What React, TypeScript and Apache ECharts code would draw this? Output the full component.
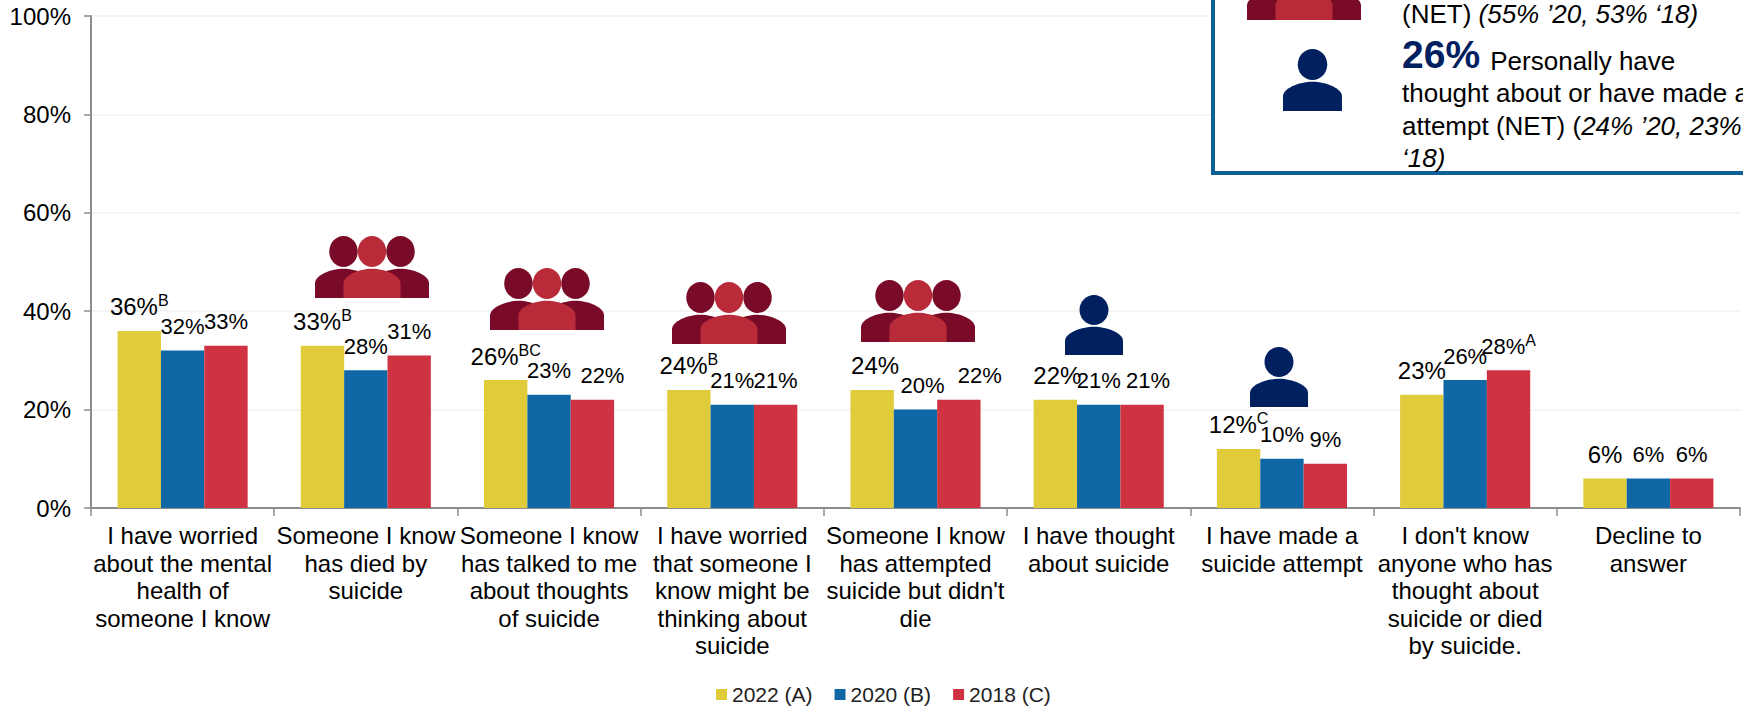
import React, { useEffect, useRef } from "react";
import * as echarts from "echarts";

const categories = [
  "I have worried\nabout the mental\nhealth of\nsomeone I know",
  "Someone I know\nhas died by\nsuicide",
  "Someone I know\nhas talked to me\nabout thoughts\nof suicide",
  "I have worried\nthat someone I\nknow might be\nthinking about\nsuicide",
  "Someone I know\nhas attempted\nsuicide but didn't\ndie",
  "I have thought\nabout suicide",
  "I have made a\nsuicide attempt",
  "I don't know\nanyone who has\nthought about\nsuicide or died\nby suicide.",
  "Decline to\nanswer",
];
const values2022 = [36, 33, 26, 24, 24, 22, 12, 23, 6];
const values2020 = [32, 28, 23, 21, 20, 21, 10, 26, 6];
const values2018 = [33, 31, 22, 21, 22, 21, 9, 28, 6];
const sup2022 = ["B", "B", "BC", "B", "", "", "C", "", ""];
const sup2020 = ["", "", "", "", "", "", "", "", ""];
const sup2018 = ["", "", "", "", "", "", "", "A", ""];
const nudge2020 = [0, 0, 0, 0, 7, 0, 0, 0, 0];
const nudge2018 = [0, 0, 10, 0, 21, 6, 0, 0, 0];
const nudge2022 = [0, 0, 0, 0, 3, 2, 0, 0, 0];

const FONT = "Liberation Sans";
const MAROON = "#7A0B28";
const ROSE = "#BA2B3A";
const NAVY = "#012060";

const BODY =
  "M0 30 L0 15 C0 7 16 0 30 0 C44 0 60 7 60 15 L60 30 Z";

function makeSeries(name: string, color: string, vals: number[], sups: string[], nudges: number[], fontSize: number) {
  return {
    name,
    type: "bar",
    barGap: 0,
    barCategoryGap: "29%",
    itemStyle: { color },
    data: vals.map((v, i) => ({
      value: v,
      label: {
        show: true,
        position: "top",
        distance: 10,
        offset: [nudges[i], 0],
        formatter: sups[i] ? `{v|${v}%}{s|${sups[i]}}` : `{v|${v}%}`,
        rich: {
          v: { fontFamily: FONT, fontSize, color: "#000", lineHeight: 28 },
          s: { fontFamily: FONT, fontSize: 16, color: "#000", lineHeight: 28, verticalAlign: "top" },
        },
      },
    })),
  };
}

function bust(x: number, y: number, w: number, h: number, fill: string) {
  return { type: "bustShape", x, y, scaleX: w / 60, scaleY: h / 30, style: { fill }, silent: true };
}

function person(x: number, y: number, w: number, h: number, fill = NAVY, z = 10) {
  const headH = h * 0.5;
  const headRx = w * 0.25;
  return [
    { type: "ellipse", shape: { cx: x + w / 2, cy: y + headH / 2, rx: headRx, ry: headH / 2 }, style: { fill }, z, silent: true },
    { ...bust(x, y + h * 0.53, w, h * 0.47, fill), z },
  ];
}

function people(x: number, y: number) {
  const W = 114;
  const H = 62;
  const pw = 57;
  return [
    ...person(x, y, pw, H, MAROON, 10),
    ...person(x + W - pw, y, pw, H, MAROON, 10),
    ...person(x + (W - pw) / 2, y, pw, H, ROSE, 11),
  ];
}

export default function App() {
  const ref = useRef<HTMLDivElement>(null);
  useEffect(() => {
    document.body.style.margin = "0";
    echarts.graphic.registerShape("bustShape", echarts.graphic.extendPath(BODY, {}) as any);
    const chart = echarts.init(ref.current!, null, { renderer: "svg" });
    const t = (x: number, y: number, text: string, rich: any) => ({
      type: "text",
      x,
      y,
      z: 20,
      silent: true,
      style: { text, rich, fontFamily: FONT, fontSize: 26, fill: "#000", verticalAlign: "middle", align: "left" },
    });
    const richText = {
      p: { fontFamily: FONT, fontSize: 26, fill: "#000" },
      q: { fontFamily: FONT, fontSize: 26, fill: "#000", verticalAlign: "bottom", lineHeight: 34, padding: [0, 0, 0, 3] },
      i: { fontFamily: FONT, fontSize: 26, fontStyle: "italic", fill: "#000" },
      b: { fontFamily: FONT, fontSize: 39, fontWeight: "bold", fill: NAVY, verticalAlign: "bottom", lineHeight: 42 },
    };
    chart.setOption({
      animation: false,
      textStyle: { fontFamily: FONT },
      grid: { left: 91, right: 3, top: 16, bottom: 198 },
      legend: {
        top: 679,
        left: 711,
        icon: "rect",
        itemWidth: 11,
        itemHeight: 11,
        itemGap: 22,
        textStyle: { fontFamily: FONT, fontSize: 21, lineHeight: 18, color: "#222" },
      },
      xAxis: {
        type: "category",
        data: categories,
        axisLine: { lineStyle: { color: "#8C8C8C", width: 2 } },
        axisTick: { show: true, alignWithLabel: false, length: 8, lineStyle: { color: "#8C8C8C", width: 1.5 } },
        axisLabel: { interval: 0, fontFamily: FONT, fontSize: 24, lineHeight: 27.5, color: "#000", margin: 14 },
      },
      yAxis: {
        type: "value",
        min: 0,
        max: 100,
        interval: 20,
        axisLine: { show: true, lineStyle: { color: "#8C8C8C", width: 2 } },
        axisTick: { show: true, length: 7, lineStyle: { color: "#8C8C8C", width: 1.5 } },
        splitLine: { lineStyle: { color: "#F2F2F2", width: 1.5 } },
        axisLabel: { formatter: "{value}%", fontFamily: FONT, fontSize: 24, color: "#000", margin: 20 },
      },
      series: [
        makeSeries("2022 (A)", "#E0CC3A", values2022, sup2022, nudge2022, 24),
        makeSeries("2020 (B)", "#0F67A5", values2020, sup2020, nudge2020, 22),
        makeSeries("2018 (C)", "#CF3342", values2018, sup2018, nudge2018, 22),
      ],
      graphic: {
        elements: [
          ...people(315, 236),
          ...people(490, 268),
          ...people(672, 282),
          ...people(861, 280),
          ...person(1065, 295, 58, 60),
          ...person(1250, 347, 58, 60),
          {
            type: "rect",
            z: 5,
            silent: true,
            shape: { x: 1213, y: -30, width: 600, height: 203 },
            style: { fill: "#fff", stroke: "#0F5F99", lineWidth: 4 },
          },
          ...people(1247, -42),
          ...person(1283, 49, 59, 62),
          t(1402, 14, "{p|(NET) }{i|(55% ’20, 53% ‘18)}", richText),
          t(1402, 52.5, "{b|26%}{q| Personally have}", richText),
          t(1402, 93, "{p|thought about or have made a}", richText),
          t(1402, 126, "{p|attempt (NET) (}{i|24% ’20, 23%}", richText),
          t(1402, 158, "{i|‘18)}", richText),
        ],
      },
    } as any);
    return () => chart.dispose();
  }, []);
  return <div ref={ref} style={{ width: 1743, height: 706 }} />;
}
